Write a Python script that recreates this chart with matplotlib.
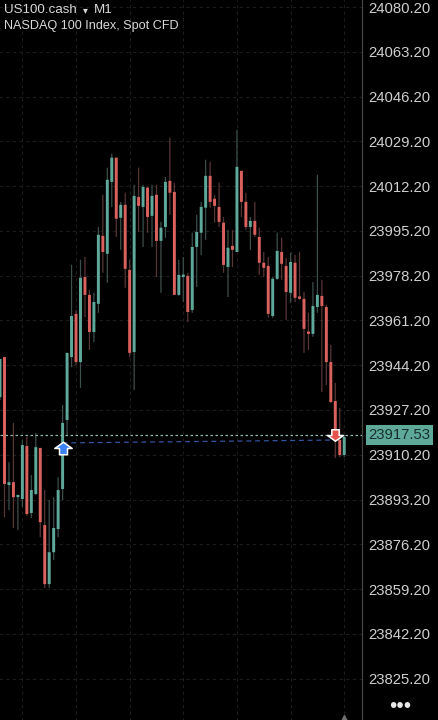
import numpy as np
import matplotlib

matplotlib.use("Agg")
import matplotlib.pyplot as plt
from matplotlib.path import Path

plt.rcParams["font.family"] = ["Liberation Sans", "DejaVu Sans"]

opens = [23932.1, 23947.3, 23898.7, 23899.8, 23894.1, 23893.4, 23913.5, 23888.1, 23895.3, 23912.8,
         23883.5, 23861.1, 23873.2, 23882.0, 23897.2, 23923.4, 23947.3, 23963.7, 23945.4, 23977.7,
         23970.9, 23956.8, 23967.5, 23993.3, 23986.5, 24013.8, 24023.0, 24000.2, 24005.1, 23980.4,
         23949.2, 24008.1, 24004.3, 24011.6, 24000.9, 24008.9, 23991.4, 23996.7, 24014.2, 24010.0,
         23970.9, 23977.7, 23978.1, 23965.2, 23989.1, 23994.5, 24004.0, 24016.1, 24007.4, 24004.3,
         23998.3, 23981.5, 23989.5, 23987.2, 24018.0, 24006.2, 23996.7, 23999.0, 23992.9, 23983.1,
         23981.9, 23962.9, 23977.0, 23987.2, 23981.9, 23971.7, 23983.1, 23969.8, 23969.4, 23956.8,
         23956.1, 23966.3, 23970.5, 23966.3, 23945.4, 23930.6, 23915.8, 23910.1]
highs = [23946.6, 23947.3, 23907.4, 23922.3, 23894.5, 23915.8, 23916.9, 23902.5, 23918.5, 23912.8,
         23896.8, 23893.0, 23894.1, 23901.7, 23929.1, 23948.9, 23982.3, 23965.2, 23984.2, 23985.3,
         23972.8, 23971.7, 23996.7, 24008.9, 24019.2, 24024.5, 24023.0, 24006.2, 24009.7, 23984.2,
         24012.7, 24019.2, 24012.7, 24011.9, 24012.7, 24012.7, 23998.6, 24015.7, 24030.6, 24013.5,
         23984.2, 23985.3, 23979.3, 23994.5, 24001.3, 24006.2, 24022.2, 24021.4, 24008.9, 24013.5,
         24000.5, 23995.6, 23995.6, 24033.6, 24018.0, 24009.7, 24000.5, 24006.2, 23996.4, 23987.2,
         23985.3, 23977.7, 23994.5, 23992.6, 23985.0, 23986.9, 23986.1, 23987.2, 23972.0, 23964.1,
         23975.8, 24016.5, 23976.6, 23967.1, 23951.9, 23937.5, 23928.0, 23917.7]
lows = [23931.0, 23886.5, 23889.2, 23882.4, 23881.6, 23890.3, 23886.9, 23886.2, 23894.9, 23878.9,
        23859.6, 23859.6, 23870.2, 23878.9, 23893.0, 23917.7, 23943.5, 23944.3, 23935.6, 23962.5,
        23950.0, 23953.0, 23964.1, 23979.3, 23975.5, 24004.3, 23992.9, 23988.0, 23973.6, 23947.3,
        23934.8, 23994.8, 23989.1, 23994.5, 23989.1, 23977.7, 23971.7, 23992.6, 24001.3, 23970.9,
        23970.5, 23968.2, 23960.6, 23964.1, 23973.9, 23986.1, 23991.8, 24004.0, 23998.3, 23996.7,
        23979.3, 23970.1, 23981.5, 23987.2, 24000.5, 23995.6, 23988.0, 23992.9, 23978.5, 23977.7,
        23962.2, 23962.2, 23976.6, 23976.6, 23961.4, 23967.9, 23968.2, 23969.0, 23948.9, 23950.0,
        23955.0, 23964.1, 23934.0, 23936.7, 23929.9, 23909.0, 23909.3, 23909.3]
closes = [23946.6, 23899.1, 23899.8, 23894.1, 23894.5, 23913.9, 23887.7, 23896.8, 23913.1, 23884.6,
          23861.1, 23873.2, 23882.4, 23896.8, 23922.3, 23948.9, 23962.9, 23945.4, 23977.4, 23970.9,
          23956.8, 23968.2, 23993.7, 23987.2, 24014.6, 24023.0, 23999.8, 24005.1, 23980.8, 23948.9,
          24008.5, 24004.7, 24011.9, 24000.5, 24008.5, 23991.4, 23996.4, 24013.8, 24009.7, 23970.9,
          23978.5, 23978.1, 23964.4, 23989.1, 23994.8, 24004.3, 24016.1, 24006.2, 24004.7, 23998.6,
          23982.3, 23988.8, 23988.0, 24019.5, 24006.2, 23996.7, 23999.0, 23993.7, 23983.1, 23981.2,
          23963.7, 23977.0, 23987.6, 23982.7, 23972.0, 23983.4, 23969.8, 23969.4, 23958.0, 23956.1,
          23966.7, 23970.9, 23966.7, 23945.4, 23930.2, 23915.8, 23910.1, 23916.9]

price_ticks = [24080.20, 24063.20, 24046.20, 24029.20, 24012.20, 23995.20, 23978.20, 23961.20,
               23944.20, 23927.20, 23910.20, 23893.20, 23876.20, 23859.20, 23842.20, 23825.20]
time_grid = [4, 16, 28, 40, 52, 64, 76]

last_price = 23917.53
buy_idx, buy_price = 13, 23912.8
sell_idx, sell_price = 74, 23917.7
trade_line_prices = [23914.7, 23915.8]

RED = "#d9625f"
GREEN = "#5fa99b"
RED_WICK = "#573736"
GREEN_WICK = "#3d4f4b"

opens = np.array(opens)
closes = np.array(closes)
highs = np.array(highs)
lows = np.array(lows)
idx = np.arange(len(opens)) - 1
up = closes >= opens

fig = plt.figure(figsize=(4.39, 7.2), dpi=100, facecolor="black")
ax = fig.add_axes([0, 0, 362.5 / 439, 1], facecolor="black")
ax.set_xlim(-1.007, 80.09)
ax.set_ylim(23809.5, 24082.86)

ax.hlines(price_ticks, -2, 82, color="#1c1c1c", lw=0.8, ls=(0, (3, 3)), zorder=1)
ax.vlines(time_grid, 23800, 24090, color="#1c1c1c", lw=0.8, ls=(0, (3, 3)), zorder=1)

wicks = ax.vlines(idx, lows, highs, colors=[GREEN_WICK if u else RED_WICK for u in up], lw=0.9, zorder=2)
wicks.set_snap(False)
bodies = ax.bar(idx, np.maximum(np.abs(closes - opens), 0.9), bottom=np.minimum(opens, closes), width=0.66,
                color=[GREEN if u else RED for u in up], zorder=3)
for b in bodies:
    b.set_snap(False)

ax.axhline(last_price, color="#8fb8ae", lw=0.9, ls=(0, (2, 2)), zorder=4)
ax.plot([buy_idx, sell_idx], trade_line_prices, color="#34539f", lw=0.9, ls=(0, (4, 3)), zorder=4)

up_arrow = Path([(0, 0.72), (1, 0), (0.46, 0), (0.46, -0.72), (-0.46, -0.72), (-0.46, 0), (-1, 0), (0, 0.72)], closed=True)
down_arrow = Path([(0, -0.72), (1, 0), (0.46, 0), (0.46, 0.72), (-0.46, 0.72), (-0.46, 0), (-1, 0), (0, -0.72)], closed=True)
ax.plot([buy_idx], [buy_price], marker=up_arrow, ms=12.5, mfc="#3b82f6", mec="white", mew=1.1, zorder=6)
ax.plot([sell_idx], [sell_price], marker=down_arrow, ms=11.5, mfc="#e5534b", mec="white", mew=1.1, zorder=6)

# small grey marker cut off at the bottom edge
ax.plot([76], [23810.0], marker="^", ms=5.5, color="#6e6e6e", zorder=5)

for side in ["top", "bottom", "left"]:
    ax.spines[side].set_visible(False)
ax.spines["right"].set_color("#444444")
ax.spines["right"].set_linewidth(0.9)
ax.set_xticks([])
ax.yaxis.tick_right()
ax.set_yticks(price_ticks)
ax.set_yticklabels([f"{p:.2f}" for p in price_ticks], fontsize=10.7, color="#cfcfcf")
ax.tick_params(axis="y", length=0, pad=4.0)

ax.text(1 + 37 / 362.5, last_price, f"{last_price:.2f}", transform=ax.get_yaxis_transform(),
        ha="center", va="center", fontsize=10.7, color="#17302b", zorder=7, clip_on=False,
        bbox=dict(boxstyle="square,pad=0.2", fc="#5fa99b", ec="none"))

fig.text(4 / 439, 1 - 10 / 720, "US100.cash", fontsize=9.6, color="#d8d8d8", va="center")
fig.text(85 / 439, 1 - 10.5 / 720, "▾", fontsize=7, color="#d8d8d8", va="center", ha="center")
fig.text(94 / 439, 1 - 10 / 720, "M1", fontsize=9.6, color="#d8d8d8", va="center")
fig.text(4 / 439, 1 - 26.5 / 720, "NASDAQ 100 Index, Spot CFD", fontsize=9.1, color="#d8d8d8", va="center")
fig.text(400.5 / 439, 1 - 706 / 720, "•••", fontsize=15, color="#e8e8e8", ha="center", va="center")

plt.savefig("out.png", dpi=100, facecolor="black")
plt.close(fig)
